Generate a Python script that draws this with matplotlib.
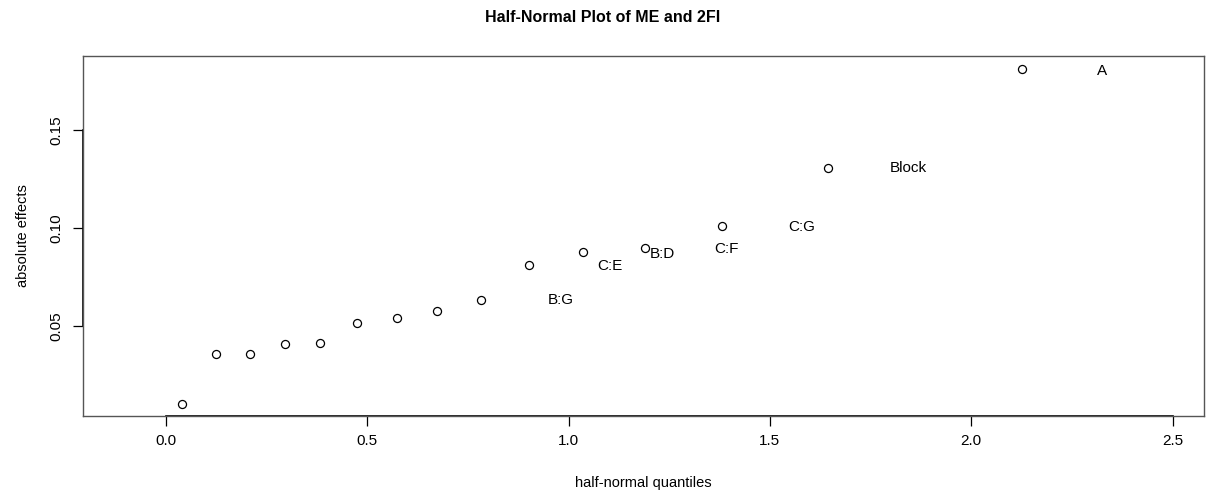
import matplotlib
matplotlib.use("Agg")
import matplotlib.pyplot as plt

# data
quantiles = [0.040, 0.124, 0.209, 0.296, 0.383, 0.474, 0.574, 0.673, 0.782,
             0.902, 1.036, 1.190, 1.381, 1.644, 2.126]
effects = [0.0102, 0.0357, 0.0357, 0.0408, 0.0413, 0.0515, 0.0540, 0.0577,
           0.0633, 0.0811, 0.0878, 0.0898, 0.1010, 0.1306, 0.1810]

labels = ["A", "Block", "C:G", "C:F", "B:D", "C:E", "B:G"]
label_x = [2.325, 1.843, 1.580, 1.391, 1.232, 1.103, 0.981]
label_y = [0.1800, 0.1306, 0.1005, 0.0893, 0.0867, 0.0806, 0.0633]

xticks = [0.0, 0.5, 1.0, 1.5, 2.0, 2.5]
yticks = [0.05, 0.10, 0.15]

plt.rcParams['font.family'] = ['Liberation Sans', 'DejaVu Sans']

fig = plt.figure(figsize=(12.06, 4.97), dpi=100)
ax = fig.add_axes([0.0688, 0.163, 0.9295, 0.7243])

ax.plot(quantiles, effects, linestyle='none', marker='o', markersize=5.8,
        markerfacecolor='white', markeredgecolor='black', markeredgewidth=0.9)

for t, lx, ly in zip(labels, label_x, label_y):
    ax.text(lx, ly, t, ha='center', va='center', fontsize=11, color='black')

ax.set_xlim(-0.206, 2.578)
ax.set_ylim(0.0041, 0.1878)

for s in ax.spines.values():
    s.set_color('#555555')
    s.set_linewidth(1.0)

ax.set_xticks(xticks)
ax.set_xticklabels([f"{v:.1f}" for v in xticks])
ax.set_yticks(yticks)
ax.set_yticklabels([f"{v:.2f}" for v in yticks], rotation=90, va='center')
ax.tick_params(axis='both', direction='out', length=7, width=0.9, color='black',
               labelsize=11)
ax.tick_params(axis='x', pad=6)
ax.tick_params(axis='y', pad=7)

# axis lines spanning the tick range (R style)
ax.plot([xticks[0], xticks[-1]], [0.0041, 0.0041], color='black', lw=1.2,
        clip_on=False)
ax.plot([-0.206, -0.206], [yticks[0], yticks[-1]], color='black', lw=1.2,
        clip_on=False)

ax.set_xlabel("half-normal quantiles", fontsize=10.5, labelpad=20)
ax.set_ylabel("absolute effects", fontsize=10.5, labelpad=14)
fig.suptitle("Half-Normal Plot of ME and 2FI", fontsize=11.5, fontweight='bold',
             x=0.5, y=1 - 18 / 497, va='center')

fig.savefig("out.png", dpi=100)
